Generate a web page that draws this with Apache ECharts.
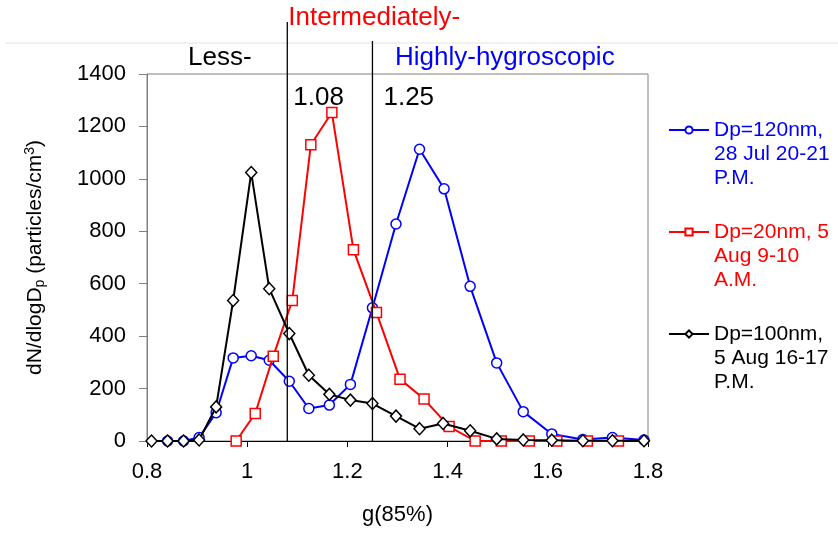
<!DOCTYPE html>
<html>
<head>
<meta charset="utf-8">
<script src="https://cdn.jsdelivr.net/npm/echarts@6/dist/echarts.min.js"></script>
<style>
  html, body { margin: 0; padding: 0; background: #fff; }
  #main { width: 838px; height: 536px; }
</style>
</head>
<body>
<div id="main"></div>
<script>
// g(85%) positions and dN/dlogDp values
var blueG = [0.841, 0.873, 0.904, 0.938, 0.972, 1.008, 1.044, 1.084, 1.123, 1.164, 1.206, 1.25, 1.297, 1.344, 1.393, 1.445, 1.498, 1.551, 1.608, 1.670, 1.729, 1.792];
var blueV = [0, 0, 13, 108, 317, 325, 308, 228, 124, 137, 216, 508, 828, 1113, 962, 590, 298, 112, 27, 6, 13, 4];

var redG = [0.978, 1.016, 1.052, 1.09, 1.127, 1.169, 1.212, 1.258, 1.305, 1.353, 1.403, 1.455, 1.507, 1.563, 1.618, 1.679, 1.741];
var redV = [0, 105, 323, 536, 1130, 1253, 730, 490, 236, 160, 55, 0, 0, 0, 0, 0, 0];

var blackG = [0.809, 0.841, 0.873, 0.904, 0.938, 0.972, 1.008, 1.044, 1.084, 1.123, 1.164, 1.206, 1.25, 1.297, 1.344, 1.391, 1.445, 1.498, 1.551, 1.608, 1.670, 1.729, 1.792];
var blackV = [0, 0, 0, 4, 130, 536, 1024, 581, 410, 251, 178, 156, 143, 95, 47, 67, 39, 8, 4, 3, 1, 1, 1];

var seriesNames = ['Dp=120nm,\n28 Jul 20-21\nP.M.', 'Dp=20nm, 5\nAug 9-10\nA.M.', 'Dp=100nm,\n5 Aug 16-17\nP.M.'];
var seriesColors = ['#0000ff', '#ff0000', '#000000'];
var seriesSymbols = ['circle', 'rect', 'diamond'];

// class boundaries
var cuts = [1.08, 1.25];

function pairs(xs, ys) {
  return xs.map(function (x, i) { return [x, ys[i]]; });
}

var font = 'Liberation Sans, Arial, sans-serif';
var chart = echarts.init(document.getElementById('main'));

var dataSets = [pairs(blueG, blueV), pairs(redG, redV), pairs(blackG, blackV)];

var option = {
  backgroundColor: '#fff',
  animation: false,
  textStyle: { fontFamily: font },
  grid: {
    left: 147, right: 190, top: 74, bottom: 95,
    show: true, borderColor: '#808080', borderWidth: 1
  },
  legend: {
    orient: 'vertical',
    left: 668,
    top: 70,
    padding: 0,
    itemGap: -18,
    itemWidth: 40,
    itemHeight: 9,
    // two blank lines first so the icon sits beside the first text line
    formatter: function (n) { return '\n\n' + n; },
    data: seriesNames.map(function (n, i) {
      return { name: n, textStyle: { color: seriesColors[i] } };
    }),
    textStyle: { fontSize: 21, lineHeight: 24, fontFamily: font }
  },
  xAxis: {
    type: 'value',
    min: 0.8, max: 1.8, interval: 0.2,
    name: 'g(85%)',
    nameLocation: 'middle',
    nameGap: 63,
    nameTextStyle: { fontSize: 22, color: '#000', fontFamily: font },
    axisLine: { lineStyle: { color: '#000', width: 1 } },
    axisTick: { length: 6, lineStyle: { color: '#000' } },
    axisLabel: {
      fontSize: 22, color: '#000', margin: 20, fontFamily: font,
      formatter: function (v) { return +v.toFixed(1) + ''; }
    },
    splitLine: { show: false }
  },
  yAxis: {
    type: 'value',
    min: 0, max: 1400, interval: 200,
    name: 'dN/dlogD{sub|p} (particles/cm{sup|3})',
    nameLocation: 'middle',
    nameRotate: 90,
    nameGap: 100,
    nameMoveOverlap: false,
    nameTextStyle: {
      fontSize: 21, color: '#000', fontFamily: font,
      rich: {
        sub: { fontSize: 14, color: '#000', padding: [10, 0, 0, 0], fontFamily: font },
        sup: { fontSize: 14, color: '#000', padding: [0, 0, 10, 0], fontFamily: font }
      }
    },
    axisLine: { show: true, lineStyle: { color: '#808080', width: 1 } },
    axisTick: { show: true, length: 8, lineStyle: { color: '#808080' } },
    axisLabel: {
      fontSize: 22, color: '#000', margin: 21, fontFamily: font,
      formatter: function (v) { return String(v); }
    },
    splitLine: { show: false }
  },
  series: dataSets.map(function (d, i) {
    return {
      name: seriesNames[i],
      type: 'line',
      data: d,
      symbol: seriesSymbols[i],
      symbolSize: seriesSymbols[i] === 'diamond' ? [11, 12] : 10,
      showAllSymbol: true,
      clip: false,
      lineStyle: { color: seriesColors[i], width: 2 },
      itemStyle: { color: '#fff', borderColor: seriesColors[i], borderWidth: 1.5 },
      z: 2 + i
    };
  })
};

chart.setOption(option);

// boundary lines, labels and class names, placed through the axis scales
var yTop = chart.convertToPixel({ yAxisIndex: 0 }, 1400);
var yBot = chart.convertToPixel({ yAxisIndex: 0 }, 0);
var x1 = chart.convertToPixel({ xAxisIndex: 0 }, cuts[0]);
var x2 = chart.convertToPixel({ xAxisIndex: 0 }, cuts[1]);

chart.setOption({
  graphic: [
    { type: 'line', shape: { x1: 5, y1: 43, x2: 838, y2: 43 }, style: { stroke: '#e3e3e3', lineWidth: 1 }, z: 1 },
    { type: 'line', shape: { x1: x1, y1: 22, x2: x1, y2: yBot }, style: { stroke: '#000', lineWidth: 1.3 }, z: 10 },
    { type: 'line', shape: { x1: x2, y1: 41, x2: x2, y2: yBot }, style: { stroke: '#000', lineWidth: 1.3 }, z: 10 },
    { type: 'text', left: x1 + 1, top: 5, style: { text: 'Intermediately-', fill: '#ff0000', font: '26px ' + font }, z: 10 },
    { type: 'text', left: 188, top: 45, style: { text: 'Less-', fill: '#000', font: '26px ' + font }, z: 10 },
    { type: 'text', left: 395, top: 45, style: { text: 'Highly-hygroscopic', fill: '#0000ff', font: '26px ' + font }, z: 10 },
    { type: 'text', left: x1 + 6, top: yTop + 11, style: { text: cuts[0].toFixed(2), fill: '#000', font: '26px ' + font }, z: 10 },
    { type: 'text', left: x2 + 11, top: yTop + 11, style: { text: cuts[1].toFixed(2), fill: '#000', font: '26px ' + font }, z: 10 }
  ]
});
</script>
</body>
</html>
